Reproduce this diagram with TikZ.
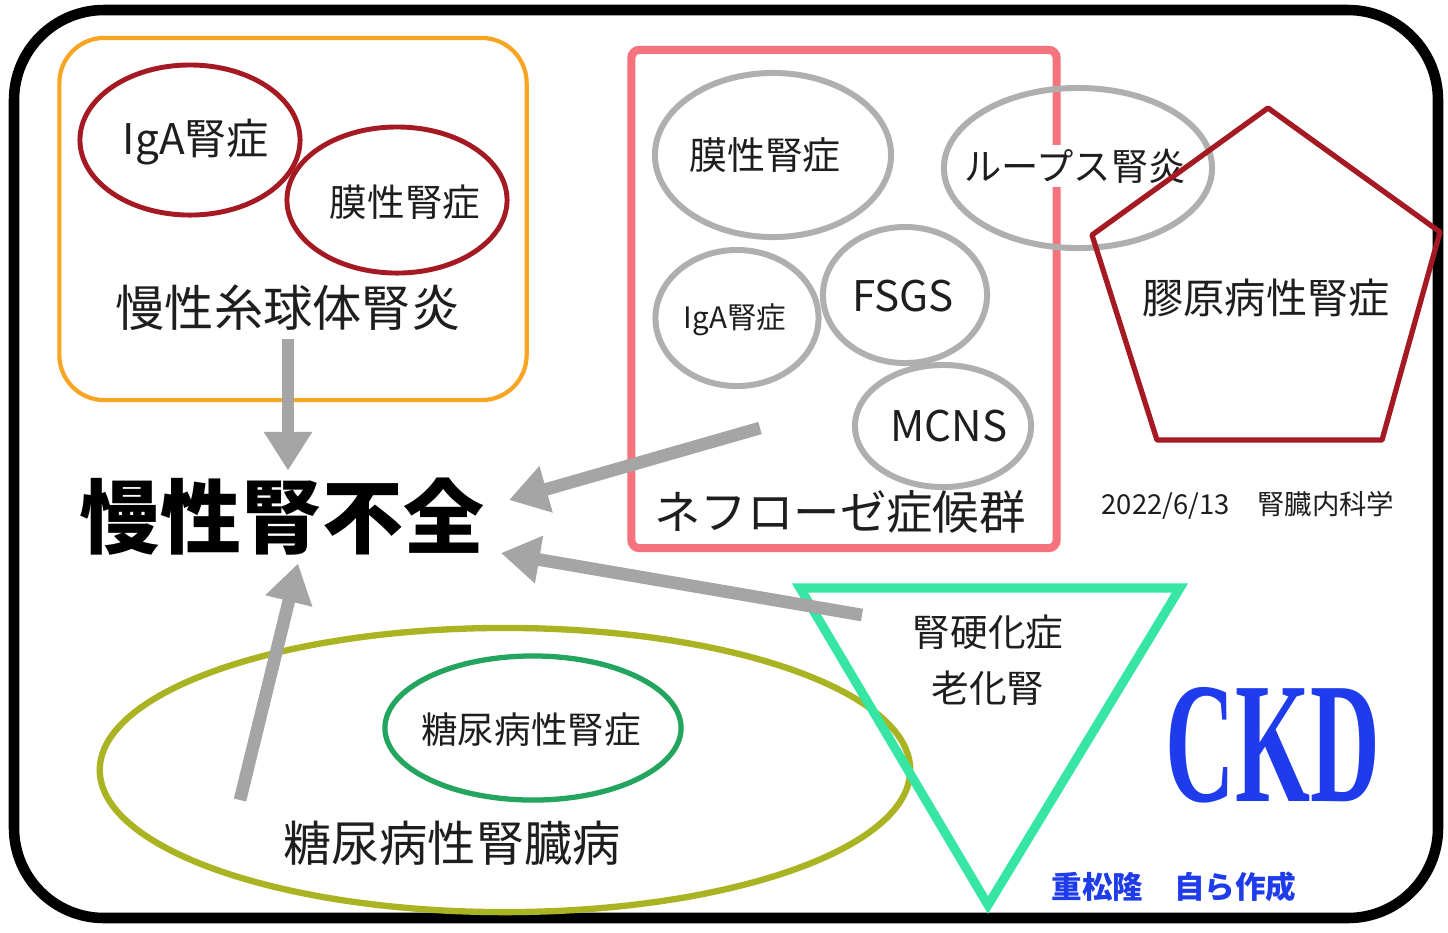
\documentclass[tikz,border=0pt]{standalone}
\usepackage{fontspec}
\setmainfont{Noto Sans CJK JP}
\newfontfamily\ckdfont{Liberation Serif}
\usepackage{tikz}
\usetikzlibrary{shapes.geometric}
\usetikzlibrary{arrows.meta}
\usepackage{xcolor}
\definecolor{ckdorange}{RGB}{247,165,35}
\definecolor{ckdred}{RGB}{165,25,35}
\definecolor{ckdpink}{RGB}{245,115,125}
\definecolor{ringgray}{RGB}{175,175,175}
\definecolor{arrowgray}{RGB}{165,165,165}
\definecolor{ckdaqua}{RGB}{55,230,165}
\definecolor{ckdolive}{RGB}{170,180,35}
\definecolor{ckdgreen}{RGB}{35,165,95}
\definecolor{ckdblue}{RGB}{30,60,235}
\definecolor{ink}{RGB}{30,30,30}

\begin{document}
\begin{tikzpicture}[x=0.01cm, y=-0.01cm,
        txt/.style={font=\fontsize{#1}{#1}\selectfont, text=ink, inner sep=2pt},
        redring/.style={draw=ckdred, line width=1.4pt, ellipse, inner sep=0pt},
        grayring/.style={draw=ringgray, line width=1.7pt, ellipse, inner sep=0pt},
        fatarrow/.style={-{Triangle[width=13pt,length=11pt]}, line width=3.6pt, draw=arrowgray}]
            \useasboundingbox (0,0) rectangle (1448,932);
            \fill[white] (0,0) rectangle (1448,932);
            % CKD frame
            \draw[line width=3pt, rounded corners=0.9cm] (14,10) rectangle (1438,918);

            % Chronic glomerulonephritis
            \node[draw=ckdorange, line width=1.2pt, rounded corners=0.45cm, minimum width=4.67cm, minimum height=3.62cm] (gnBox) at (293,219) {};
            \node[redring, minimum width=2.2cm, minimum height=1.5cm] (igaRing) at (190,140) {};
            \node[redring, minimum width=2.2cm, minimum height=1.46cm] (memRing) at (397,200) {};
            \node[txt=12] (igaTxt) at (196,142) {IgA腎症};
            \node[txt=10.7] (memTxt) at (405,202) {膜性腎症};
            \node[txt=14] (gnTxt) at (288,308) {慢性糸球体腎炎};

            % Chronic renal failure
            \node[font=\bfseries\fontsize{23}{23}\selectfont, inner sep=2pt] (failTxt) at (282,517) {慢性腎不全};

            % Nephrotic syndrome
            \node[draw=ckdpink, line width=2.3pt, rounded corners=0.08cm, minimum width=4.25cm, minimum height=4.98cm] (nsBox) at (844,299) {};
            \node[grayring, minimum width=2.36cm, minimum height=1.64cm] (mnRing) at (773,155) {};
            \node[grayring, minimum width=2.68cm, minimum height=1.6cm] (lupusRing) at (1078,168) {};
            \node[grayring, minimum width=1.63cm, minimum height=1.36cm] (igaSmallRing) at (737,318) {};
            \node[grayring, minimum width=1.64cm, minimum height=1.36cm] (fsgsRing) at (905,295) {};
            \node[grayring, minimum width=1.76cm, minimum height=1.22cm] (mcnsRing) at (943,426) {};
            \node[txt=10.8] (mnTxt) at (765,155) {膜性腎症};
            \node[txt=10.6, fill=white, inner sep=1pt] (lupusTxt) at (1075,166) {ループス腎炎};
            \node[txt=8.4] (igaSmallTxt) at (735,320) {IgA腎症};
            \node[txt=12] (fsgsTxt) at (903,296) {FSGS};
            \node[txt=12] (mcnsTxt) at (949,426) {MCNS};
            \node[txt=13.2] (nsTxt) at (840,512) {ネフローゼ症候群};

            % Collagen disease
            \draw[draw=ckdred, line width=1.5pt, line join=round] (1268,108) -- (1440,232) -- (1382,440) -- (1157,440) -- (1092,235) -- cycle;
            \node[txt=11.7] (collTxt) at (1266,298) {膠原病性腎症};
            \node[txt=7.8] (dateTxt) at (1248,505) {2022/6/13　腎臓内科学};

            % Diabetic kidney disease
            \node[draw=ckdolive, line width=1.8pt, ellipse, minimum width=8.1cm, minimum height=2.84cm] (dkdRing) at (505,770) {};
            \node[draw=ckdgreen, line width=1.5pt, ellipse, minimum width=2.96cm, minimum height=1.44cm] (dnRing) at (533,728) {};
            \node[txt=10.4] (dnTxt) at (531,730) {糖尿病性腎症};
            \node[txt=13.7] (dkdTxt) at (452,843) {糖尿病性腎臓病};

            % Nephrosclerosis
            \draw[draw=ckdaqua, line width=2.6pt] (800,588) -- (1180,588) -- (988,905) -- cycle;
            \node[txt=10.7] (sclTxt) at (988,632) {腎硬化症};
            \node[txt=10.7] (agingTxt) at (988,688) {老化腎};

            \node[text=ckdblue, font=\ckdfont\bfseries\fontsize{49}{49}\selectfont] (ckdTxt) at (1273,745) {\scalebox{0.56}[1]{CKD}};
            \node[text=ckdblue, font=\bfseries\fontsize{8.7}{8.7}\selectfont] (authorTxt) at (1174,887) {重松隆　自ら作成};

            % Arrows
            \coordinate (nsFrom) at (760,428);
            \coordinate (sclFrom) at (862,615);
            \coordinate (dkdFrom) at (240,800);
            \draw[fatarrow] (gnTxt.south) -- (failTxt.north -| gnTxt.south);
            \draw[fatarrow] (nsFrom) -- ([xshift=0.17cm,yshift=0.17cm]failTxt.east);
            \draw[fatarrow] (sclFrom) -- ([xshift=0.09cm,yshift=-0.36cm]failTxt.east);
            \draw[fatarrow] (dkdFrom) -- ([xshift=0.16cm]failTxt.south);
        \end{tikzpicture}
\end{document}
